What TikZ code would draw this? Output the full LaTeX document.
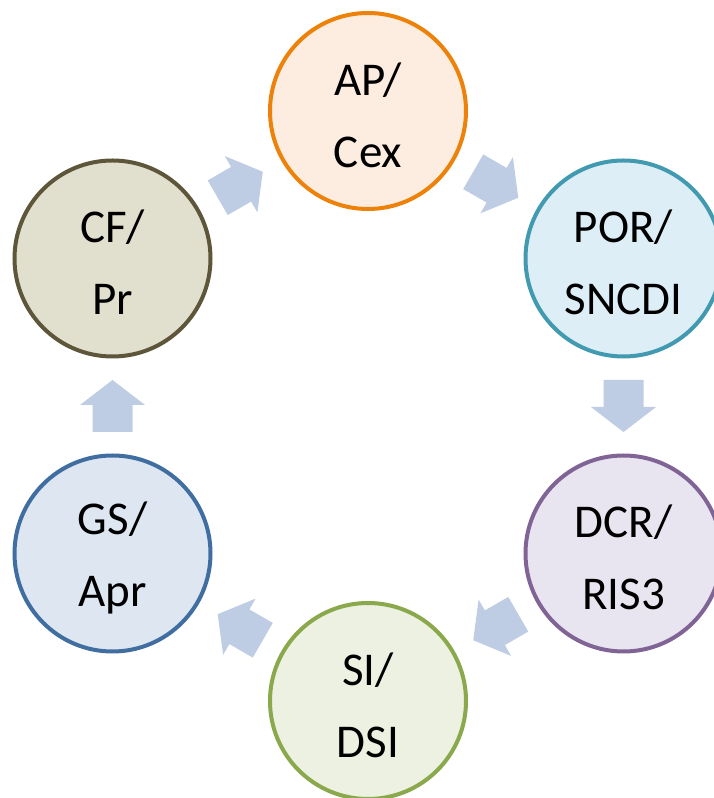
\documentclass[tikz,border=0pt]{standalone}
\usepackage{fontspec}
\setmainfont{Carlito}
\definecolor{apB}{RGB}{236,130,10}\definecolor{apF}{RGB}{253,236,224}
\definecolor{porB}{RGB}{66,154,176}\definecolor{porF}{RGB}{222,238,246}
\definecolor{dcrB}{RGB}{128,100,150}\definecolor{dcrF}{RGB}{232,228,240}
\definecolor{siB}{RGB}{138,168,76}\definecolor{siF}{RGB}{236,241,226}
\definecolor{gsB}{RGB}{64,110,160}\definecolor{gsF}{RGB}{222,230,241}
\definecolor{cfB}{RGB}{94,86,58}\definecolor{cfF}{RGB}{225,223,205}
\definecolor{arrF}{RGB}{190,205,227}
\tikzset{
  stage/.style={circle, minimum size=196pt, inner sep=0pt, line width=4pt},
  stagetext/.style={align=center, font=\fontsize{47}{72}\selectfont, text=black, yshift=-4pt},
  blockarrow/.style={fill=arrF, draw=none}
}
\newcommand{\blockarr}[3]{%
  \path (#1) -- (#2) coordinate[midway] (m-#1-#2);
  \fill[blockarrow, shift={(m-#1-#2)}, rotate=#3]
    (-26,-20) -- (1,-20) -- (1,-32.5) -- (26,0) -- (1,32.5) -- (1,20) -- (-26,20) -- cycle;
}
\begin{document}
\begin{tikzpicture}[x=1pt,y=1pt]
\useasboundingbox (0,0) rectangle (714,798);
\fill[white] (0,0) rectangle (714,798);
\node[stage, draw=apB, fill=apF, label={[stagetext]center:AP/\\Cex}] (ap) at (368,687) {};
\node[stage, draw=porB, fill=porF, label={[stagetext]center:POR/\\SNCDI}] (por) at (623.5,539.5) {};
\node[stage, draw=dcrB, fill=dcrF, label={[stagetext]center:DCR/\\RIS3}] (dcr) at (623.5,244.5) {};
\node[stage, draw=siB, fill=siF, label={[stagetext]center:SI/\\DSI}] (si) at (368,97) {};
\node[stage, draw=gsB, fill=gsF, label={[stagetext]center:GS/\\Apr}] (gs) at (112.5,244.5) {};
\node[stage, draw=cfB, fill=cfF, label={[stagetext]center:CF/\\Pr}] (cf) at (112.5,539.5) {};
\blockarr{ap}{por}{-30}
\blockarr{por}{dcr}{-90}
\blockarr{dcr}{si}{-150}
\blockarr{si}{gs}{150}
\blockarr{gs}{cf}{90}
\blockarr{cf}{ap}{30}
\end{tikzpicture}
\end{document}
